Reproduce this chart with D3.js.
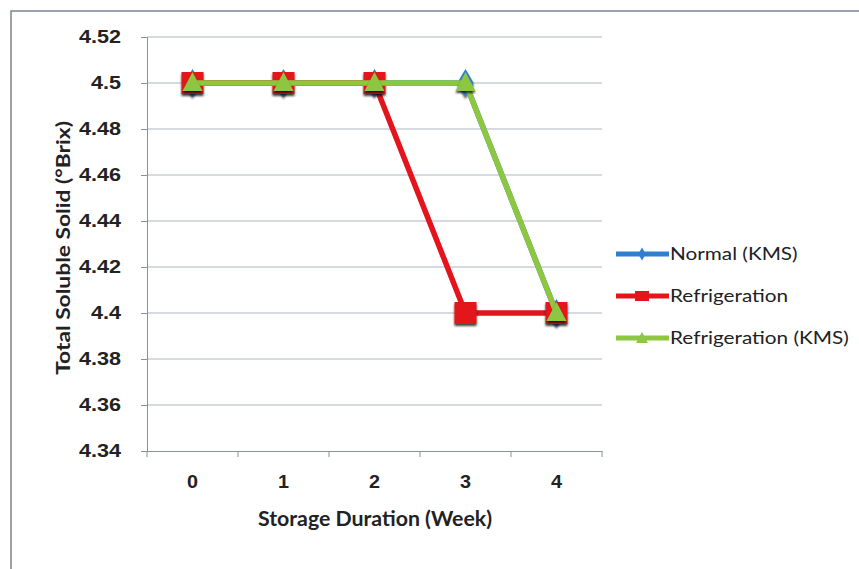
<!DOCTYPE html>
<html>
<head>
<meta charset="utf-8">
<script src="https://cdn.jsdelivr.net/npm/d3@7"></script>
<style>
  html, body { margin: 0; padding: 0; background: #fff; }
  svg { display: block; font-family: Lato, "Open Sans", sans-serif; }
</style>
</head>
<body>
<svg id="chart" width="859" height="569"></svg>
<script>
// Storage weeks and total soluble solid readings (°Brix)
const weeks = ['0', '1', '2', '3', '4'];
const normalKms = [4.5, 4.5, 4.5, 4.5, 4.4];
const refrigeration = [4.5, 4.5, 4.5, 4.4, 4.4];
const refrigerationKms = [4.5, 4.5, 4.5, 4.5, 4.4];
const yTicks = [4.34, 4.36, 4.38, 4.4, 4.42, 4.44, 4.46, 4.48, 4.5, 4.52];

const series = [
  { name: 'Normal (KMS)', values: normalKms, color: '#2f7fd1', marker: 'diamond' },
  { name: 'Refrigeration', values: refrigeration, color: '#e3141c', marker: 'square' },
  { name: 'Refrigeration (KMS)', values: refrigerationKms, color: '#8dc63f', marker: 'triangle' },
];

const svg = d3.select('#chart');
const plot = { left: 147, right: 602, top: 37, bottom: 451 };

// outer chart frame (runs off the right/bottom of the picture)
svg.append('rect')
  .attr('x', 11).attr('y', 11).attr('width', 870).attr('height', 580)
  .attr('fill', 'none').attr('stroke', '#7d8391').attr('stroke-width', 1.5);

const defs = svg.append('defs');
defs.append('filter').attr('id', 'shadow')
  .attr('x', '-50%').attr('y', '-50%').attr('width', '200%').attr('height', '200%')
  .append('feDropShadow')
  .attr('dx', 0).attr('dy', 2).attr('stdDeviation', 1)
  .attr('flood-color', '#000').attr('flood-opacity', 0.75);

const x = d3.scaleBand().domain(weeks).range([plot.left, plot.right]);
const y = d3.scaleLinear().domain([4.34, 4.52]).range([plot.bottom, plot.top]);
const cx = d => x(d) + x.bandwidth() / 2;

// the scanned source text runs wider than Lato, so stretch it sideways
function widen(k) {
  return sel => sel.each(function () {
    const el = d3.select(this);
    const tx = +el.attr('x') || 0;
    el.attr('x', 0).attr('transform', `translate(${tx},0) scale(${k},1)`);
  });
}

// gridlines
svg.append('g')
  .selectAll('line').data(yTicks.slice(1)).join('line')
  .attr('x1', plot.left).attr('x2', plot.right)
  .attr('y1', d => y(d)).attr('y2', d => y(d))
  .attr('stroke', '#adb3c0').attr('stroke-width', 1);

// y axis
svg.append('g')
  .attr('transform', `translate(${plot.left},0)`)
  .call(d3.axisLeft(y).tickValues(yTicks).tickSize(6).tickPadding(20)
    .tickFormat(d => d3.format('~g')(d)))
  .call(g => g.select('.domain').attr('stroke', '#8a909c'))
  .call(g => g.selectAll('.tick line').attr('stroke', '#8a909c'))
  .call(g => g.selectAll('text').attr('font-size', '18px').attr('font-weight', 'bold').attr('fill', '#222').call(widen(1.2)));

// x axis
svg.append('g')
  .attr('transform', `translate(0,${plot.bottom})`)
  .call(d3.axisBottom(x).tickSize(0).tickPadding(24))
  .call(g => g.select('.domain').attr('stroke', '#8a909c'))
  .call(g => g.selectAll('text').attr('font-size', '18px').attr('font-weight', 'bold').attr('fill', '#222').call(widen(1.1)));

// category boundary ticks
svg.append('g')
  .selectAll('line').data(d3.range(weeks.length + 1)).join('line')
  .attr('x1', i => plot.left + i * x.step()).attr('x2', i => plot.left + i * x.step())
  .attr('y1', plot.bottom).attr('y2', plot.bottom + 6)
  .attr('stroke', '#8a909c');

// axis titles
svg.append('text')
  .attr('transform', 'translate(375,526) scale(1.065,1)')
  .attr('text-anchor', 'middle').attr('font-size', '20px').attr('font-weight', 'bold').attr('fill', '#222')
  .text('Storage Duration (Week)');

svg.append('text')
  .attr('transform', 'translate(70,248) rotate(-90) scale(1.2,1)')
  .attr('text-anchor', 'middle').attr('font-size', '19px').attr('font-weight', 'bold').attr('fill', '#222')
  .text('Total Soluble Solid (°Brix)');

const line = d3.line().x((d, i) => cx(weeks[i])).y(d => y(d));

const markerPath = {
  diamond: d3.symbol(d3.symbolDiamond, 230)(),
  square: 'M-11,-11H11V11H-11Z',
  triangle: 'M0,-11L10,8H-10Z',
};

series.forEach(s => {
  const g = svg.append('g');
  g.append('path').datum(s.values)
    .attr('d', line).attr('fill', 'none')
    .attr('stroke', s.color).attr('stroke-width', 5.5)
    .attr('stroke-linejoin', 'round');
  g.selectAll('path.mk').data(s.values).join('path')
    .attr('class', 'mk')
    .attr('transform', (d, i) => `translate(${cx(weeks[i])},${y(d)})`)
    .attr('d', markerPath[s.marker])
    .attr('fill', s.color)
    .attr('filter', 'url(#shadow)');
});

// legend
const legend = svg.append('g').attr('transform', 'translate(616,254)');
series.forEach((s, i) => {
  const row = legend.append('g').attr('transform', `translate(0,${i * 42})`);
  row.append('line').attr('x1', 0).attr('x2', 53).attr('y1', 0).attr('y2', 0)
    .attr('stroke', s.color).attr('stroke-width', 5);
  const small = s.marker === 'square' ? 'M-7,-5H7V5H-7Z'
    : s.marker === 'triangle' ? 'M0,-6L6,5H-6Z'
    : d3.symbol(d3.symbolDiamond, 50)();
  row.append('path').attr('transform', 'translate(26,0)').attr('d', small).attr('fill', s.color);
  row.append('text').attr('x', 54).attr('y', 0).attr('dy', '0.35em')
    .attr('font-size', '17px').attr('fill', '#222')
    .text(s.name)
    .call(widen(1.22));
});
</script>
</body>
</html>
